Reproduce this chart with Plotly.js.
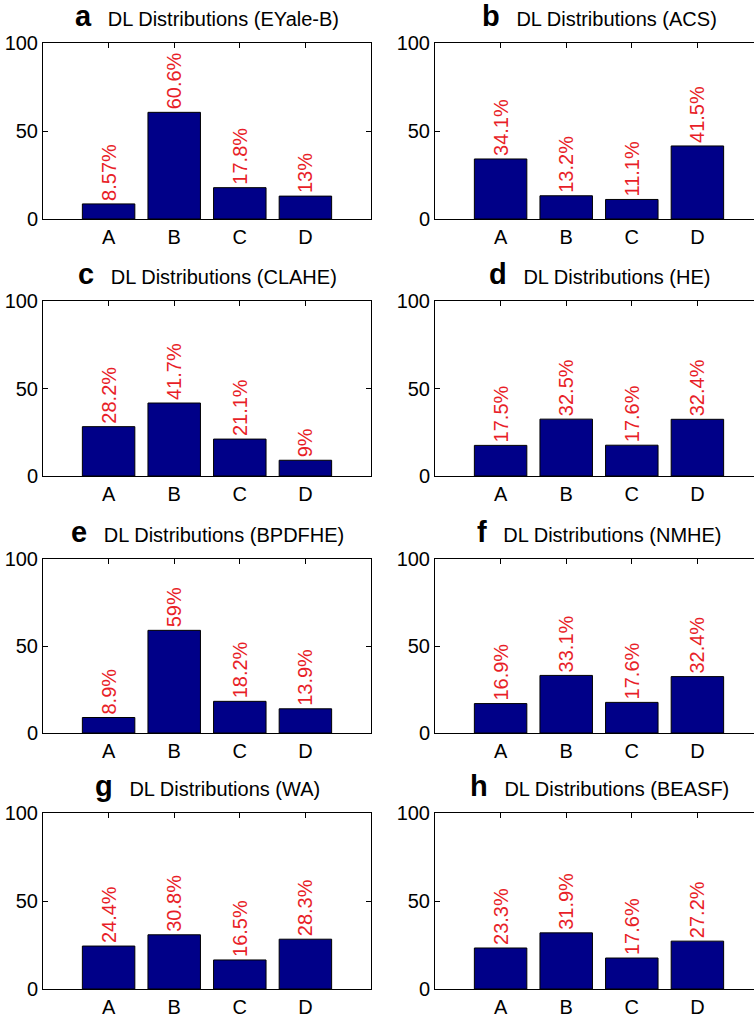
<!DOCTYPE html>
<html>
<head>
<meta charset="utf-8">
<script src="https://cdn.plot.ly/plotly-3.0.1.min.js"></script>
<style>html,body{margin:0;padding:0;background:#fff;}#chart{width:754px;height:1017px;}</style>
</head>
<body>
<div id="chart"></div>
<script>
// ---- data ----
const categories = ['A', 'B', 'C', 'D'];
const panelLetters = ['a', 'b', 'c', 'd', 'e', 'f', 'g', 'h'];
const panelNames = ['EYale-B', 'ACS', 'CLAHE', 'HE', 'BPDFHE', 'NMHE', 'WA', 'BEASF'];
const eyaleB = [8.57, 60.6, 17.8, 13];
const acs = [34.1, 13.2, 11.1, 41.5];
const clahe = [28.2, 41.7, 21.1, 9];
const he = [17.5, 32.5, 17.6, 32.4];
const bpdfhe = [8.9, 59, 18.2, 13.9];
const nmhe = [16.9, 33.1, 17.6, 32.4];
const wa = [24.4, 30.8, 16.5, 28.3];
const beasf = [23.3, 31.9, 17.6, 27.2];
const yTicks = [0, 50, 100];

const series = [eyaleB, acs, clahe, he, bpdfhe, nmhe, wa, beasf];

// ---- layout geometry (pixels) ----
const W = 754, H = 1017;
const rowsPx = [[43, 219], [301, 476], [559, 733], [813, 989]];
const leftPx = [43, 371];
const rightPx = [435, 754];
const pxPerUnit = (leftPx[1] - leftPx[0]) / 5;
const FONT = 'Liberation Sans, Arial, Helvetica, sans-serif';

const traces = [];
const layout = {
  width: W, height: H,
  margin: {l: 0, r: 0, t: 0, b: 0},
  paper_bgcolor: '#ffffff',
  plot_bgcolor: '#ffffff',
  showlegend: false,
  font: {family: FONT, color: '#000', size: 20},
  annotations: [],
  bargap: 0.2
};

series.forEach((vals, i) => {
  const row = Math.floor(i / 2), col = i % 2;
  const n = i + 1;
  const xa = 'x' + (n === 1 ? '' : n), ya = 'y' + (n === 1 ? '' : n);
  traces.push({
    type: 'bar',
    x: categories,
    y: vals,
    xaxis: xa, yaxis: ya,
    width: 0.8,
    marker: {color: '#000088', line: {color: '#000', width: 1}},
    text: vals.map(v => String(v) + '%'),
    textposition: 'outside',
    textangle: -90,
    constraintext: 'none',
    cliponaxis: false,
    textfont: {color: 'rgb(232,30,40)', size: 20, family: FONT},
    hoverinfo: 'none'
  });
  const xpx = col === 0 ? leftPx : rightPx;
  const ypx = rowsPx[row];
  const xd = [xpx[0] / W, xpx[1] / W];
  const yd = [1 - ypx[1] / H, 1 - ypx[0] / H];
  const xmax = -1 + (xpx[1] - xpx[0]) / pxPerUnit;
  layout['xaxis' + (n === 1 ? '' : n)] = {
    domain: xd, anchor: ya, type: 'category',
    range: [-1, xmax],
    showgrid: false, zeroline: false,
    showline: true, linecolor: '#000', linewidth: 1, mirror: 'ticks',
    ticks: 'inside', ticklen: 5, tickcolor: '#000', tickwidth: 1,
    tickfont: {size: 20, color: '#000', family: FONT},
    layer: 'below traces', fixedrange: true
  };
  layout['yaxis' + (n === 1 ? '' : n)] = {
    domain: yd, anchor: xa,
    range: [0, 100], tickvals: yTicks, ticktext: yTicks.map(String),
    showgrid: false, zeroline: false,
    showline: true, linecolor: '#000', linewidth: 1, mirror: col === 0 ? 'ticks' : false,
    ticks: 'inside', ticklen: 5, tickcolor: '#000', tickwidth: 1,
    tickfont: {size: 20, color: '#000', family: FONT},
    layer: 'below traces', fixedrange: true
  };
  const centerPx = xpx[0] + 164;
  layout.annotations.push({
    xref: 'paper', yref: 'paper',
    x: centerPx / W, y: yd[1],
    xanchor: 'center', yanchor: 'bottom', yshift: 9,
    showarrow: false,
    text: '<span style="font-size:29px;font-weight:bold">' + panelLetters[i] + '</span>\u00a0\u00a0\u00a0DL Distributions (' + panelNames[i] + ')',
    font: {size: 20, color: '#000', family: FONT}
  });
});

Plotly.newPlot('chart', traces, layout, {staticPlot: true, displayModeBar: false});
</script>
</body>
</html>
